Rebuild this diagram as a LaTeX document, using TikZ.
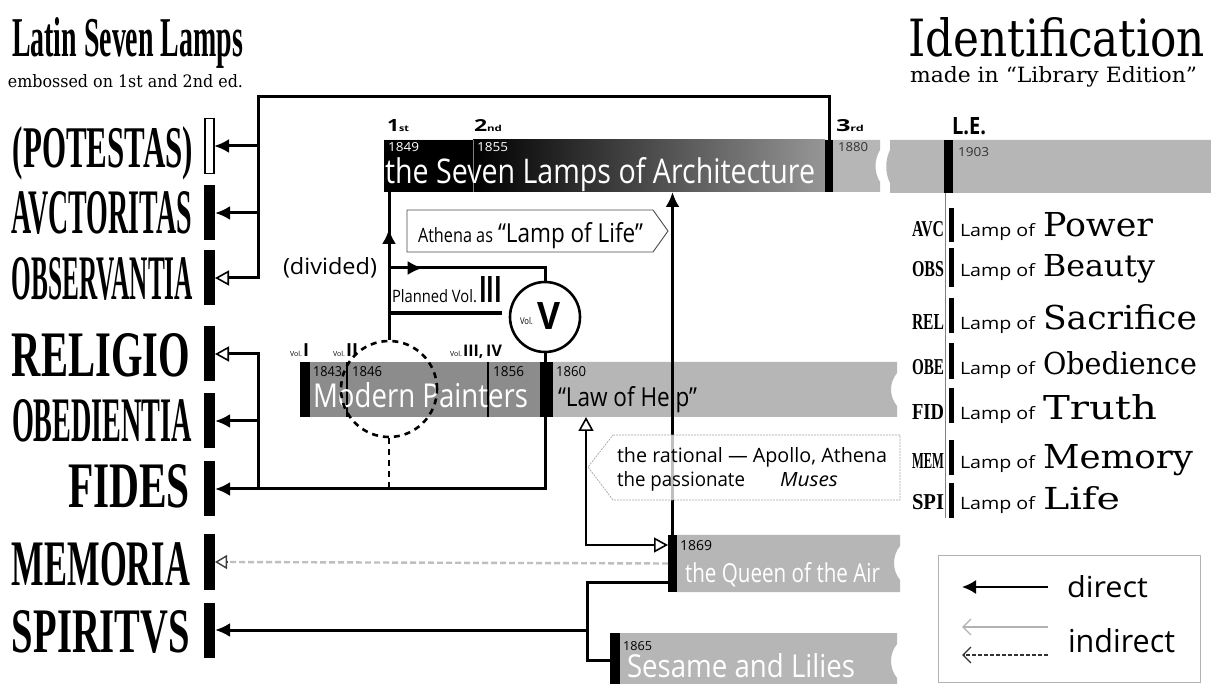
\documentclass[tikz,border=0pt]{standalone}
\usepackage{fontspec}
\usepackage{graphicx}
\setmainfont{DejaVu Serif}
\newfontfamily\lsans{Open Sans}
\newfontfamily\cserif{Liberation Serif}
\usetikzlibrary{arrows.meta,decorations.markings,calc}
\newcommand\T[3]{\resizebox{#1pt}{#2pt}{#3}}
\definecolor{lg}{RGB}{182,182,182}
\definecolor{dg}{RGB}{140,140,140}
\definecolor{gr}{RGB}{150,150,150}
\begin{document}
\begin{tikzpicture}[x=1pt,y=-1pt,
  tx/.style={inner sep=0pt,outer sep=0pt,anchor=base west},
  lbar/.style={fill=black,minimum width=11pt,minimum height=55pt,inner sep=0pt,outer sep=0pt},
  barmark/.style={fill=black,inner sep=0pt,outer sep=0pt},
  conn/.style={line width=3pt,black},
  tconn/.style={line width=1.8pt,black},
  dtip/.style={-{Latex[length=15pt,width=14pt]}},
  otip/.style={-{Triangle[open,length=14pt,width=15pt,line width=1.6pt]}},
  midarrow/.style={postaction={decorate},decoration={markings,mark=at position #1 with {\arrow{Latex[length=15pt,width=14pt]}}}},
  bigsf/.style={text=white}
]
\useasboundingbox (0,0) rectangle (1211,684);
\fill[white] (0,0) rectangle (1211,684);

% ---------- titles ----------
\node[tx] (tl1) at (12,57) {\T{231}{39}{\cserif\bfseries Latin Seven Lamps}};
\node[tx] (tl2) at (8,88) {\T{235}{13}{embossed on 1st and 2nd ed.}};
\node[tx] (tr1) at (908,57) {\T{297}{39}{Identification}};
\node[tx] (tr2) at (910,83) {\T{287}{16}{made in “Library Edition”}};

% ---------- left labels ----------
\node[lbar,fill=white,draw=black,line width=1.2pt,minimum width=9pt] (bPOT) at (209.5,146) {};
\node[lbar] (bAVC) at (209.5,213) {};
\node[lbar] (bOBS) at (209.5,278) {};
\node[lbar] (bREL) at (209.5,354) {};
\node[lbar] (bOBE) at (209.5,421) {};
\node[lbar] (bFID) at (209.5,489) {};
\node[lbar] (bMEM) at (209.5,562) {};
\node[lbar] (bSPI) at (209.5,630) {};

\node[tx,anchor=base east] (lPOT) at (193,168) {\T{180}{41}{\cserif\bfseries (POTESTAS)}};
\node[tx,anchor=base east] (lAVC) at (192,234) {\T{180}{42}{\cserif\bfseries AVCTORITAS}};
\node[tx,anchor=base east] (lOBS) at (193,300) {\T{181}{42}{\cserif\bfseries OBSERVANTIA}};
\node[tx,anchor=base east] (lREL) at (190,377) {\T{178}{43}{\cserif\bfseries RELIGIO}};
\node[tx,anchor=base east] (lOBE) at (192,442) {\T{180}{42}{\cserif\bfseries OBEDIENTIA}};
\node[tx,anchor=base east] (lFID) at (190,508) {\T{122}{43}{\cserif\bfseries FIDES}};
\node[tx,anchor=base east] (lMEM) at (190,585) {\T{178}{43}{\cserif\bfseries MEMORIA}};
\node[tx,anchor=base east] (lSPI) at (190,652) {\T{178}{42}{\cserif\bfseries SPIRITVS}};

% ---------- Seven Lamps bar ----------
\fill[lg] (384,140) -- (880,140) -- (880,150) .. controls (874,160) and (874,172) .. (880,182) -- (880,192) -- (384,192) -- cycle;
\fill[black] (384,140) rectangle (473,192);
\shade[left color=black,right color=gr] (473,140) rectangle (825,192);
\draw[gray,line width=0.6pt] (473,140) -- (473,192);
\node[barmark,minimum width=8pt,minimum height=52pt] (m3) at (829,166) {};
\coordinate (SLb) at (389,192);
\node[tx] at (387,132) {\T{22}{12}{\lsans\bfseries 1\fontsize{5}{5}\selectfont st}};
\node[tx] at (474,132) {\T{28}{12}{\lsans\bfseries 2\fontsize{5}{5}\selectfont nd}};
\node[tx] at (836,132) {\T{28}{12}{\lsans\bfseries 3\fontsize{5}{5}\selectfont rd}};
\node[tx,text=white] at (388,152) {\T{31}{9}{\lsans 1849}};
\node[tx,text=white] at (477,152) {\T{31}{9}{\lsans 1855}};
\node[tx,text=black!80] at (838,152) {\T{30}{9}{\lsans 1880}};
\node[tx,bigsf] (tSL) at (385,184) {\T{430}{26}{\lsans the Seven Lamps of Architecture}};

% ---------- L.E. bar ----------
\fill[lg] (890,140) -- (1211,140) -- (1211,193) -- (890,193) -- (890,183) .. controls (885,173) and (885,160) .. (890,150) -- cycle;
\node[barmark,minimum width=9pt,minimum height=53pt] (mLE) at (948.5,166.5) {};
\node[tx] at (952,135) {\T{34}{17}{\lsans\bfseries L.E.}};
\node[tx,text=black!80] at (958,157) {\T{31}{9}{\lsans 1903}};
\draw[gray,line width=0.8pt] (945.5,193) -- (945.5,518);

% ---------- right list ----------
\foreach \ab/\w/\top/\bot/\base/\ww/\hh [count=\i] in
  {AVC/Power/208/242/237/110/24, OBS/Beauty/248/287/277/112/22, REL/Sacrifice/298/333/330/154/25,
   OBE/Obedience/343/379/375/154/23, FID/Truth/388/423/420/114/25, MEM/Memory/440/475/469/150/24, SPI/Life/483/518/510/77/23}{
  \fill (949,\top) rectangle (954,\bot);
  \node[tx,anchor=base east] at (944,\base) {\T{32}{15}{\cserif\bfseries \ab}};
  \node[tx] at (960,\base) {\T{75}{13}{\lsans Lamp of}};
  \node[tx] at (1043,\base) {\T{\ww}{\hh}{\w}};
}

% ---------- Modern Painters bar ----------
\fill[lg] (553,362) -- (897,362) -- (897,373) .. controls (889,383) and (889,396) .. (897,406) -- (897,417) -- (553,417) -- cycle;
\fill[dg] (310,362) rectangle (540,417);
\fill (300,362) rectangle (310,417);
\node[barmark,minimum width=13pt,minimum height=55pt] (m1860) at (546.5,389.5) {};
\draw[line width=1.2pt] (347,362) -- (347,417);
\draw[line width=1.2pt] (488,362) -- (488,417);
\node[tx] at (290,357) {\lsans\fontsize{7}{7}\selectfont Vol.\,\fontsize{18}{18}\selectfont\bfseries I};
\node[tx] at (333,357) {\lsans\fontsize{7}{7}\selectfont Vol.\,\fontsize{18}{18}\selectfont\bfseries II};
\node[tx] at (450,357) {\lsans\fontsize{7}{7}\selectfont Vol.\,\fontsize{16}{16}\selectfont\bfseries III,\,IV};
\node[tx] at (313,377) {\T{29}{10}{\lsans 1843}};
\node[tx] at (352,377) {\T{30}{10}{\lsans 1846}};
\node[tx] at (493,377) {\T{31}{10}{\lsans 1856}};
\node[tx] at (556,377) {\T{30}{10}{\lsans 1860}};
\node[tx,bigsf] (tMP) at (313,408) {\T{215}{25}{\lsans Modern Painters}};
\node[tx] (tLH) at (558,407) {\T{139}{20}{\lsans “Law of Help”}};
\coordinate (lawB) at (586,417);

% ---------- Queen of the Air ----------
\fill[lg] (677,535) -- (900,535) -- (900,546) .. controls (892,556) and (892,570) .. (900,580) -- (900,592) -- (677,592) -- cycle;
\node[barmark,minimum width=9pt,minimum height=57pt] (mQ) at (672.5,563.5) {};
\node[tx] at (680,550) {\T{32}{10}{\lsans 1869}};
\node[tx,bigsf] (tQ) at (685,583) {\T{195}{20}{\lsans the Queen of the Air}};
\coordinate (q545) at (668,545);
\coordinate (q582) at (668,582);

% ---------- Sesame and Lilies ----------
\fill[lg] (620,633) -- (897,633) -- (897,644) .. controls (889,654) and (889,668) .. (897,678) -- (897,684) -- (620,684) -- cycle;
\node[barmark,minimum width=10pt,minimum height=51pt] (mS) at (615,658.5) {};
\node[tx] at (623,650) {\T{29}{9}{\lsans 1865}};
\node[tx,bigsf] (tS) at (627,677) {\T{228}{24}{\lsans Sesame and Lilies}};
\coordinate (sj) at (587,660);

% ---------- circles ----------
\node[circle,draw,dashed,dash pattern=on 6pt off 5pt,line width=2.6pt,minimum size=96pt,inner sep=0pt] (mpc) at (389,389) {};
\node[circle,draw,fill=white,line width=2.6pt,minimum size=70pt,inner sep=0pt] (volV) at (545,317) {};
\node[tx] at (520,325) {\T{13}{7}{\lsans Vol.}};
\node[tx] at (537,330) {\T{23}{27}{\lsans\bfseries V}};

% ---------- connectors: top ----------
\coordinate (c1) at (258,97);
\draw[conn,otip] (m3.north) |- (c1) |- (bOBS.east);
\draw[conn,dtip] (c1 |- bPOT.east) -- (bPOT.east);
\draw[conn,dtip] (c1 |- bAVC.east) -- (bAVC.east);

% ---------- connectors: Modern Painters group ----------
\draw[conn,dtip] (volV.south) |- (bFID.east);
\draw[conn,otip] (c1 |- bFID.east) |- (bREL.east);
\draw[conn,dtip] (c1 |- bOBE.east) -- (bOBE.east);
\draw[conn,dashed,dash pattern=on 6pt off 5pt,line width=2.6pt] (mpc.south) -- (mpc.south |- bFID.east);
\draw[conn,midarrow=0.75] (mpc.north) -- (SLb);
\coordinate (div) at (389,268);
\draw[conn,midarrow=0.2] (div) -| (volV.north);
\node[tx] (tdiv) at (283,275) {\T{94}{17}{\lsans (divided)}};
\node[tx] (tpl) at (392,303) {\T{85}{13}{\lsans Planned Vol.}};
\node[tx] (tIII) at (479,303) {\T{23}{26}{\lsans\bfseries III}};
\draw[line width=4pt] (390,313) -- (502,313);

% ---------- Athena callout ----------
\draw[line width=0.9pt,draw=black!70,fill=white] (407,210) -- (653,210) -- (668,231) -- (653,252) -- (407,252) -- cycle;
\node[tx] (tath) at (418,243) {\T{75}{15}{\lsans Athena as}};
\node[tx] (tlol) at (498,243) {\T{145}{20}{\lsans “Lamp of Life”}};

% ---------- Queen connectors ----------
\draw[conn,dtip] (mQ.north) -- (mQ.north |- SLb);
\draw[tconn,{Triangle[open,length=14pt,width=15pt,line width=1.6pt]}-{Triangle[open,length=14pt,width=15pt,line width=1.6pt]}] (lawB) |- (q545);
\draw[line width=2.4pt,gray!50,dashed,dash pattern=on 6pt off 3pt] (mQ.west) -- ($(bMEM.east)+(12,0)$);
\draw[line width=1.2pt,black!75,-{Triangle[open,length=12pt,width=14pt,line width=1.4pt]}] ($(bMEM.east)+(13,0)$) -- (bMEM.east);
\draw[conn] (q582) -| (sj) -- (sj -| mS.west);
\draw[conn,dtip] (sj |- bSPI.east) -- (bSPI.east);

% ---------- rational callout ----------
\draw[line width=0.7pt,draw=gray!70,dash pattern=on 2pt off 1pt,fill=white,fill opacity=0.75] (613,435) -- (900,435) -- (900,500) -- (613,500) -- (588,467) -- cycle;
\node[tx] (tr1a) at (617,463) {\T{270}{15}{\lsans the rational — Apollo, Athena}};
\node[tx] (tr1b) at (617,487) {\T{128}{15}{\lsans the passionate}};
\node[tx] (tr1c) at (780,487) {\T{58}{14}{\lsans\itshape Muses}};

% ---------- legend ----------
\node[draw=gray!60,line width=0.8pt,minimum width=262pt,minimum height=127pt,inner sep=0pt] (leg) at (1069,618.5) {};
\coordinate (la1) at (1048,587);
\coordinate (la2) at (962,587);
\coordinate (lb1) at (1048,627);
\coordinate (lb2) at (962,627);
\coordinate (lc1) at (1048,655);
\coordinate (lc2) at (962,655);
\draw[line width=2pt,-{Latex[length=14pt,width=14pt]}] (la1) -- (la2);
\draw[line width=2.4pt,gray!60,-{Straight Barb[length=8pt,width=16pt,line width=1.3pt]}] (lb1) -- (lb2);
\draw[line width=1.6pt,black!80,dashed,dash pattern=on 4pt off 2pt,-{Straight Barb[length=8pt,width=16pt,line width=1.3pt,line cap=butt]}] (lc1) -- (lc2);
\node[tx] (ld) at (1067,597) {\T{81}{22}{\lsans direct}};
\node[tx] (li) at (1068,652) {\T{107}{24}{\lsans indirect}};
\end{tikzpicture}
\end{document}
